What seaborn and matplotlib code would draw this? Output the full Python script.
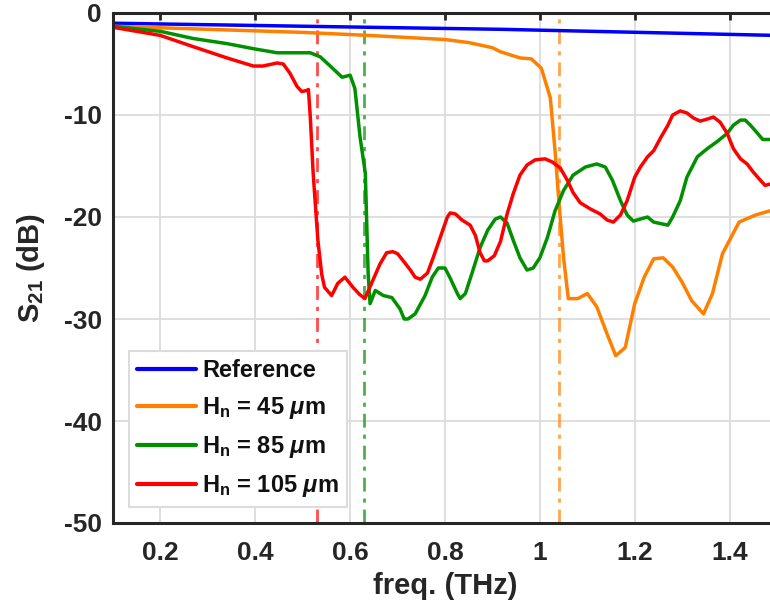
import numpy as np
import pandas as pd
import matplotlib
matplotlib.use("Agg")
import matplotlib.pyplot as plt
import seaborn as sns

# ---------------- data ----------------
ref_f = [0.1, 0.64, 0.92, 1.5]
ref_db = [-1.0, -1.4, -1.6, -2.2]

h45_f = [0.1, 0.3, 0.5, 0.64, 0.8, 0.85, 0.9, 0.917, 0.958, 0.982, 1.003, 1.022, 1.032, 1.04,
         1.05, 1.06, 1.08, 1.10, 1.12, 1.142, 1.16, 1.18, 1.20, 1.22, 1.24, 1.26, 1.28, 1.30,
         1.32, 1.345, 1.364, 1.385, 1.42, 1.455, 1.5]
h45_db = [-1.3, -1.6, -1.9, -2.2, -2.6, -2.9, -3.4, -3.8, -4.4, -4.5, -5.4, -8.3, -13.5, -18.4,
          -24.0, -28.0, -28.0, -27.5, -28.8, -31.5, -33.6, -32.8, -28.5, -25.9, -24.1, -24.0,
          -24.9, -26.4, -28.2, -29.5, -27.5, -23.6, -20.5, -19.8, -19.2]

h85_f = [0.1, 0.2, 0.269, 0.34, 0.396, 0.446, 0.495, 0.516, 0.537, 0.558, 0.583, 0.6, 0.61,
         0.621, 0.632, 0.638, 0.642, 0.653, 0.67, 0.688, 0.705, 0.714, 0.722, 0.737, 0.758,
         0.773, 0.786, 0.80, 0.811, 0.826, 0.832, 0.843, 0.857, 0.874, 0.89, 0.906, 0.917,
         0.931, 0.944, 0.958, 0.973, 0.986, 1.0, 1.016, 1.032, 1.05, 1.07, 1.096, 1.12, 1.138,
         1.153, 1.17, 1.184, 1.197, 1.212, 1.227, 1.24, 1.27, 1.28, 1.296, 1.31, 1.332, 1.353,
         1.374, 1.395, 1.408, 1.423, 1.433, 1.444, 1.459, 1.47, 1.5]
h85_db = [-1.3, -1.8, -2.5, -3.0, -3.5, -3.9, -3.9, -3.9, -4.3, -5.2, -6.3, -6.1, -7.4,
          -12.2, -15.7, -25.6, -28.5, -27.2, -27.7, -27.9, -29.0, -30.0, -30.0, -29.5, -27.7,
          -25.9, -25.0, -25.0, -26.0, -27.5, -28.0, -27.5, -25.5, -23.0, -21.3, -20.2, -20.0,
          -20.6, -22.3, -24.0, -25.2, -25.0, -24.0, -22.0, -19.4, -17.4, -15.9, -15.1, -14.8, -15.1,
          -16.4, -18.4, -19.8, -20.4, -20.2, -20.0, -20.5, -20.8, -20.0, -18.4, -16.1, -14.1, -13.3,
          -12.6, -11.8, -11.0, -10.5, -10.5, -11.0, -11.8, -12.4, -12.4]

h105_f = [0.1, 0.2, 0.269, 0.34, 0.396, 0.416, 0.446, 0.459, 0.473, 0.488, 0.498, 0.508,
          0.512, 0.516, 0.522, 0.532, 0.54, 0.546, 0.561, 0.574, 0.589, 0.606, 0.62, 0.631,
          0.648, 0.663, 0.677, 0.69, 0.70, 0.712, 0.727, 0.737, 0.748, 0.763, 0.775, 0.79, 0.805,
          0.811, 0.822, 0.836, 0.853, 0.864, 0.874, 0.883, 0.89, 0.904, 0.917, 0.931, 0.944,
          0.958, 0.973, 0.99, 1.011, 1.026, 1.043, 1.058, 1.07, 1.085, 1.106, 1.127, 1.142, 1.155,
          1.17, 1.184, 1.20, 1.212, 1.227, 1.24, 1.255, 1.27, 1.28, 1.296, 1.31, 1.324, 1.338,
          1.353, 1.366, 1.38, 1.395, 1.408, 1.423, 1.437, 1.45, 1.465, 1.475, 1.5]
h105_db = [-1.4, -2.2, -3.3, -4.4, -5.2, -5.2, -4.9, -5.0, -5.9, -7.2, -7.7, -7.6,
           -7.5, -10.2, -15.7, -22.3, -25.6, -26.9, -27.7, -26.5, -25.9, -26.9, -27.6, -28.0,
           -26.2, -24.6, -23.5, -23.4, -23.6, -24.3, -25.2, -25.9, -26.1, -25.5, -24.0, -22.0, -20.0,
           -19.6, -19.7, -20.3, -20.8, -21.8, -23.5, -24.3, -24.3, -23.8, -22.4, -19.7, -17.7,
           -15.9, -14.9, -14.4, -14.3, -14.6, -15.2, -16.4, -17.6, -18.6, -19.2, -19.7, -20.3, -20.5,
           -19.8, -18.4, -16.1, -15.1, -14.1, -13.5, -12.2, -11.0, -10.0, -9.6, -9.8, -10.3, -10.6,
           -10.4, -10.2, -10.7, -11.8, -13.3, -14.3, -14.8, -15.6, -16.4, -16.9, -16.6]

cutoffs = [1.04, 0.63, 0.53]
labels = ["Reference", r"H$_{\mathbf{n}}$ = 45 $\mu$m", r"H$_{\mathbf{n}}$ = 85 $\mu$m",
          r"H$_{\mathbf{n}}$ = 105 $\mu$m"]
colors = ["#0000FF", "#FF8000", "#009000", "#FF0000"]
xticks = [0.2, 0.4, 0.6, 0.8, 1.0, 1.2, 1.4]
xticklabels = ["0.2", "0.4", "0.6", "0.8", "1", "1.2", "1.4"]
yticks = [0, -10, -20, -30, -40, -50]
yticklabels = ["0", "-10", "-20", "-30", "-40", "-50"]

# ---------------- style ----------------
sns.set_theme(style="whitegrid")
plt.rcParams["font.family"] = ["Liberation Sans", "DejaVu Sans"]
plt.rcParams["font.weight"] = "bold"
plt.rcParams["axes.unicode_minus"] = False
plt.rcParams["mathtext.fontset"] = "custom"
plt.rcParams["mathtext.rm"] = "Liberation Sans:bold"
plt.rcParams["mathtext.bf"] = "Liberation Sans:bold"
plt.rcParams["mathtext.it"] = "Liberation Sans:italic:bold"

fig = plt.figure(figsize=(7.7, 6.08), dpi=100)
ax = fig.add_axes([113 / 770, (608 - 523) / 608, (777 - 113) / 770, (523 - 13) / 608])

frames = []
for name, f, d in zip(labels, [ref_f, h45_f, h85_f, h105_f], [ref_db, h45_db, h85_db, h105_db]):
    frames.append(pd.DataFrame({"freq": f, "S21": d, "series": name}))
df = pd.concat(frames, ignore_index=True)

sns.lineplot(data=df, x="freq", y="S21", hue="series", palette=colors, hue_order=labels,
             linewidth=2.5, ax=ax, sort=False, estimator=None,
             solid_joinstyle="round", solid_capstyle="round")

for c, col in zip(cutoffs, colors[1:]):
    ax.axvline(c, color=col, alpha=0.7, linewidth=2.0, linestyle=(0, (5, 2.5, 1.5, 2.5)), zorder=1)

ax.set_xlim(0.1, 1.5)
ax.set_ylim(-50, 0)
ax.set_xticks(xticks)
ax.set_xticklabels(xticklabels)
ax.set_yticks(yticks)
ax.set_yticklabels(yticklabels)

ax.grid(True, color="#dcdcdc", linewidth=1.3)
ax.set_axisbelow(True)
for s in ax.spines.values():
    s.set_color("#262626")
    s.set_linewidth(2.2)
ax.tick_params(axis="both", direction="in", length=5, width=2, color="#262626",
               labelsize=19, labelcolor="#262626", top=True, right=True)
ax.tick_params(axis="x", pad=13)
ax.tick_params(axis="y", pad=8)
for lab in ax.get_xticklabels() + ax.get_yticklabels():
    lab.set_fontweight("bold")

ax.set_xlabel("freq. (THz)", fontsize=21, fontweight="bold", color="#262626", labelpad=5)
ax.set_ylabel(r"S$_{\mathbf{21}}$ (dB)", fontsize=21, fontweight="bold", color="#262626", labelpad=12)

leg = ax.legend(loc="lower left", bbox_to_anchor=(0.024, 0.031), borderaxespad=0,
                fontsize=17, frameon=True, fancybox=False, handlelength=2.5,
                handletextpad=0.25, labelspacing=0.55, borderpad=0.35, title=None)
leg.get_frame().set_edgecolor("#dcdcdc")
leg.get_frame().set_linewidth(1.5)
leg.get_frame().set_alpha(1.0)
for t in leg.get_texts():
    t.set_fontweight("bold")
    t.set_color("#111111")
for h in leg.get_lines():
    h.set_linewidth(3)

fig.savefig("out.png", dpi=100)
